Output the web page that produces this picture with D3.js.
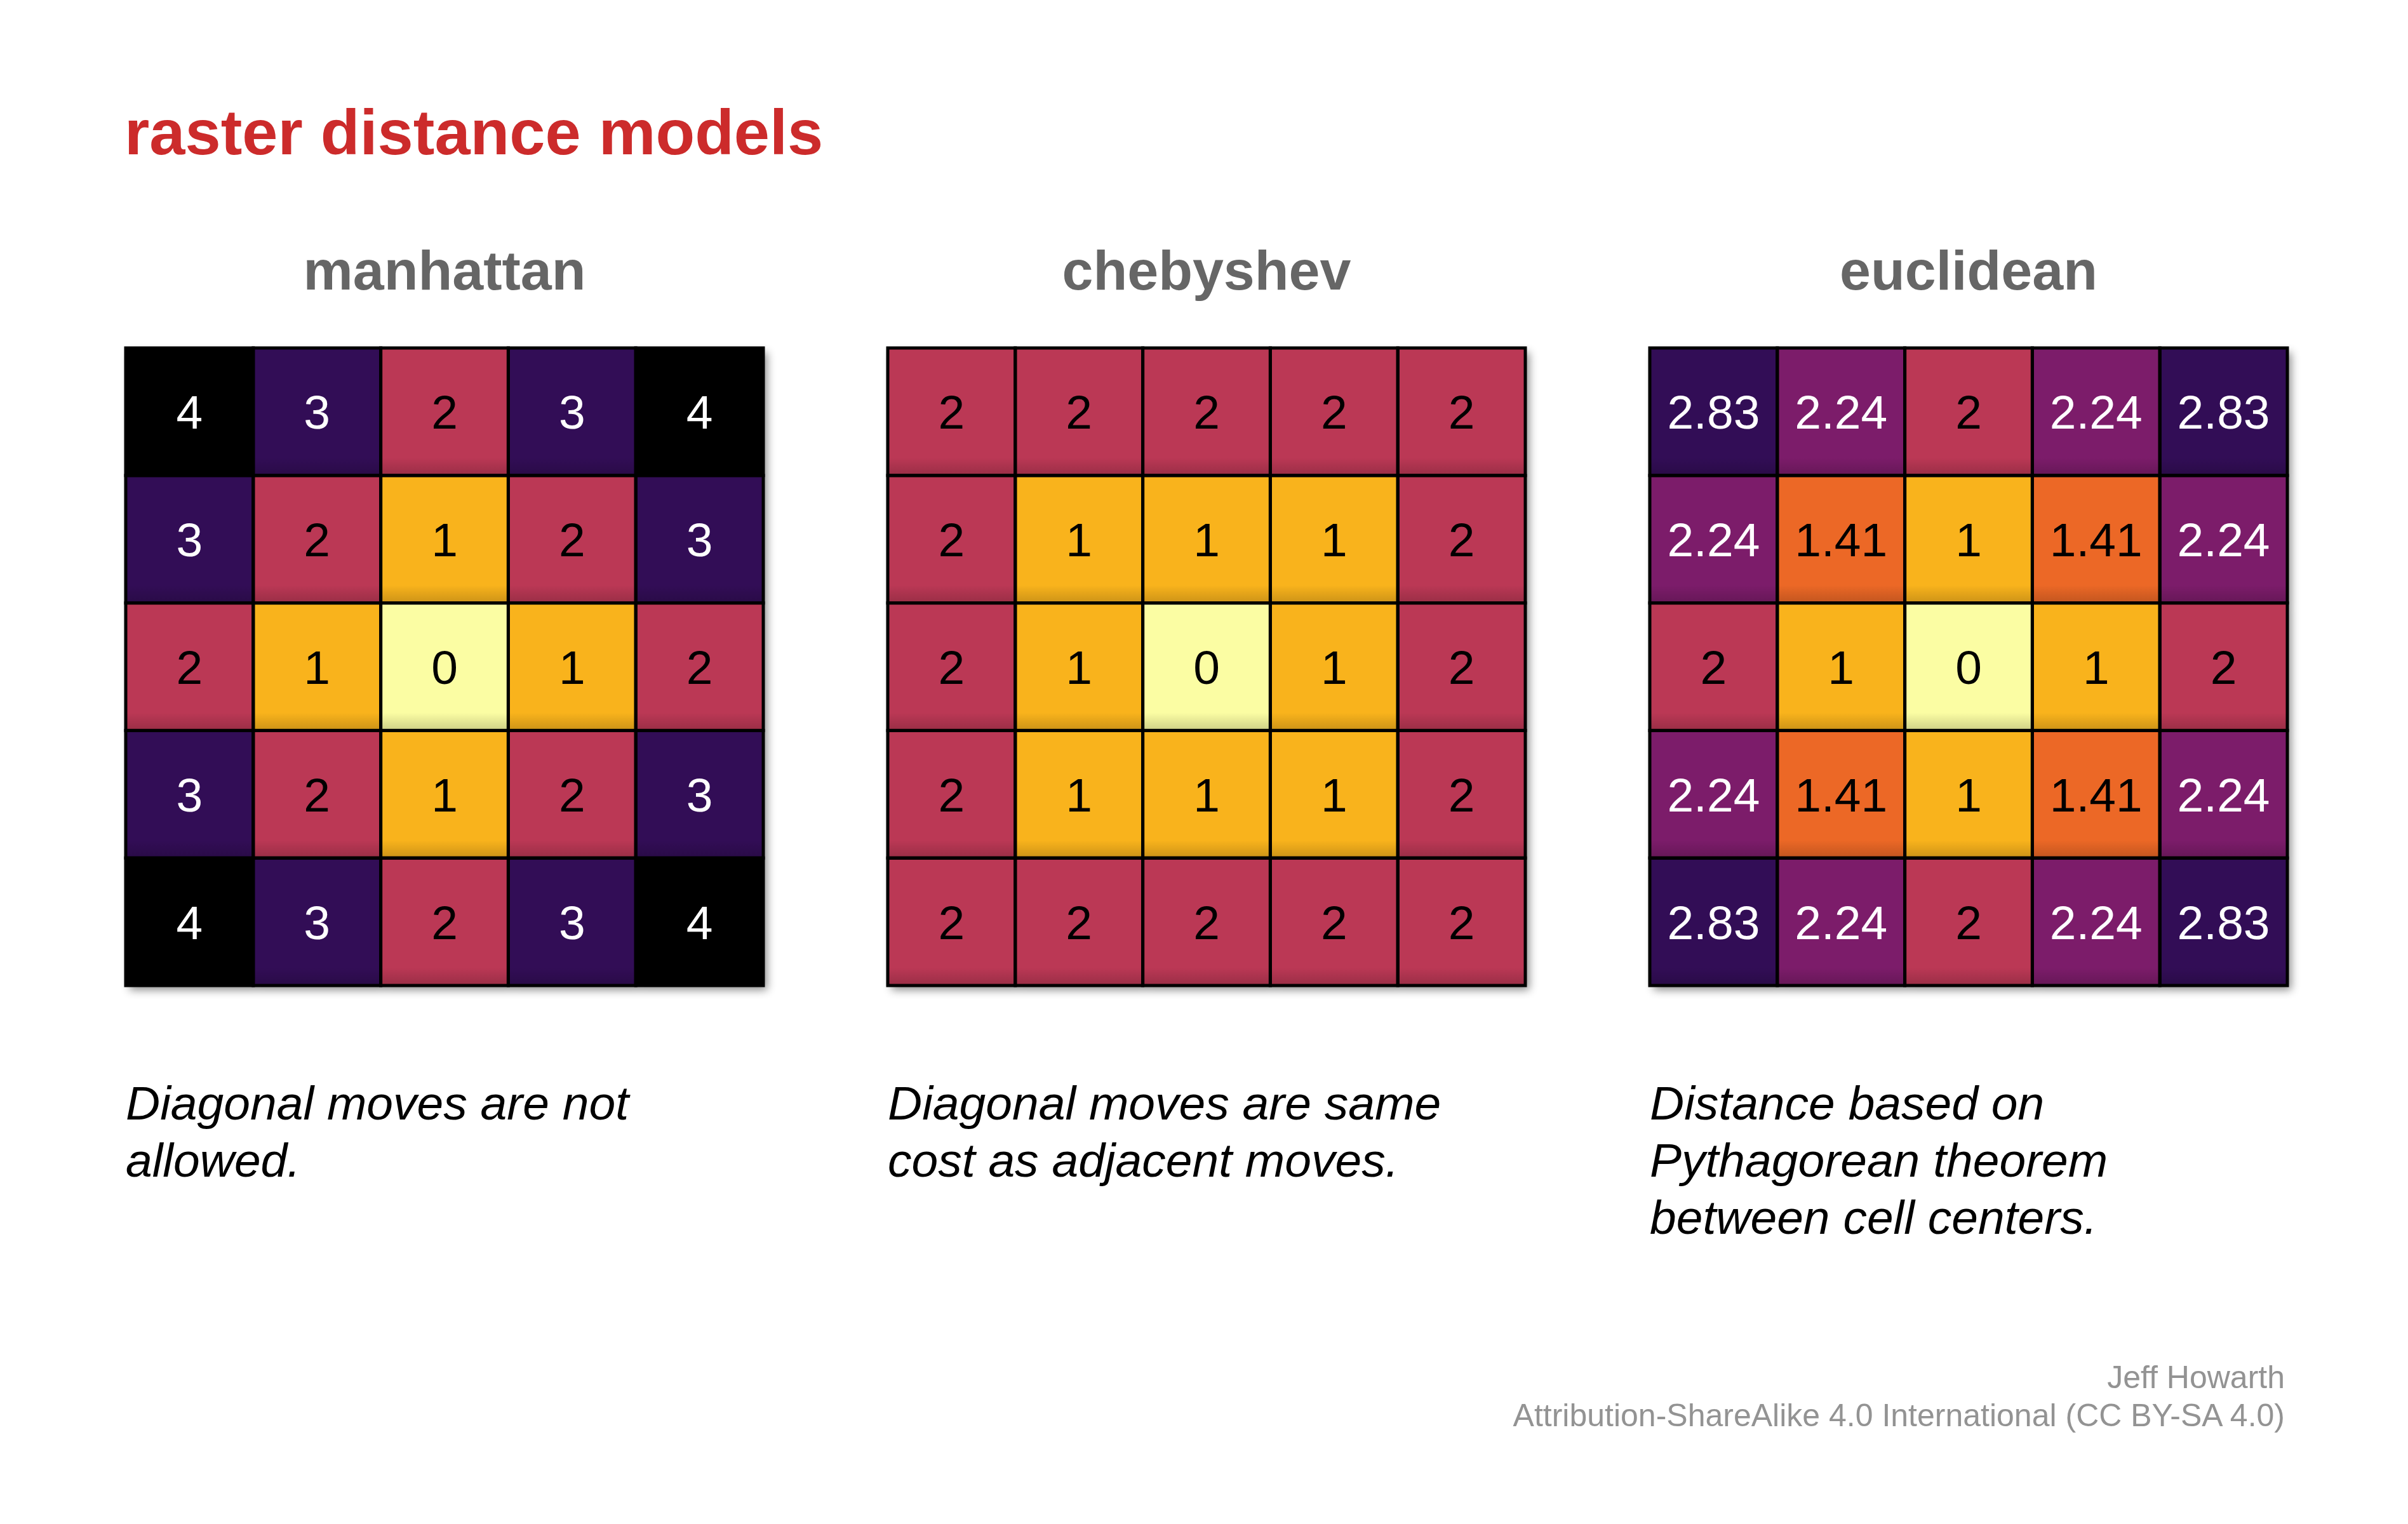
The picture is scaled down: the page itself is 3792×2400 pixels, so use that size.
<!DOCTYPE html>
<html lang="en">
	<head>
		<meta charset="utf-8">
		<title>raster distance models</title>
		<script src="https://cdnjs.cloudflare.com/ajax/libs/d3/7.8.5/d3.min.js"></script>
		<style type="text/css">
			body { margin: 0; background: #fff; }
			text { font-family: "Liberation Sans", Arial, Helvetica, sans-serif; }
		</style>
	</head>
	<body>
		<script type="text/javascript">

			// distance values (row by row)
			const manhattan = [
				["4","3","2","3","4"],
				["3","2","1","2","3"],
				["2","1","0","1","2"],
				["3","2","1","2","3"],
				["4","3","2","3","4"]
			];
			const chebyshev = [
				["2","2","2","2","2"],
				["2","1","1","1","2"],
				["2","1","0","1","2"],
				["2","1","1","1","2"],
				["2","2","2","2","2"]
			];
			const euclidean = [
				["2.83","2.24","2","2.24","2.83"],
				["2.24","1.41","1","1.41","2.24"],
				["2","1","0","1","2"],
				["2.24","1.41","1","1.41","2.24"],
				["2.83","2.24","2","2.24","2.83"]
			];

			const panelNames = ["manhattan", "chebyshev", "euclidean"];
			const panelGrids = [manhattan, chebyshev, euclidean];
			const captions = [
				["Diagonal moves are not", "allowed."],
				["Diagonal moves are same", "cost as adjacent moves."],
				["Distance based on", "Pythagorean theorem", "between cell centers."]
			];

			// colour classes
			const classValues = ["0", "1", "1.41", "2", "2.24", "2.83", "3", "4"];
			const classColors = ["#fbfda3", "#f9b31c", "#ec6726", "#bb3754", "#7b1b6a", "#330a56", "#330a56", "#000004"];
			const classText   = ["#000", "#000", "#000", "#000", "#fff", "#fff", "#fff", "#fff"];

			var w = 3792;
			var h = 2400;

			var svg = d3.select("body")
						.append("svg")
						.attr("width", w)
						.attr("height", h);

			var defs = svg.append("defs");
			var f = defs.append("filter")
				.attr("id", "shadow")
				.attr("x", "-10%").attr("y", "-10%")
				.attr("width", "130%").attr("height", "130%");
			f.append("feDropShadow")
				.attr("dx", 6).attr("dy", 7)
				.attr("stdDeviation", 7)
				.attr("flood-color", "#000")
				.attr("flood-opacity", 0.45);

			var inner = defs.append("linearGradient")
				.attr("id", "innerShade")
				.attr("x1", 0).attr("y1", 0).attr("x2", 0).attr("y2", 1);
			inner.append("stop").attr("offset", "0.86").attr("stop-color", "#000").attr("stop-opacity", 0);
			inner.append("stop").attr("offset", "1").attr("stop-color", "#000").attr("stop-opacity", 0.18);

			var fill = d3.scaleOrdinal().domain(classValues).range(classColors);
			var ink = d3.scaleOrdinal().domain(classValues).range(classText);

			// title
			svg.append("text")
				.attr("x", 196)
				.attr("y", 243)
				.attr("font-size", "101px")
				.attr("font-weight", "bold")
				.attr("fill", "#cc2b2b")
				.text("raster distance models");

			var gridSize = 1004;
			var panelX = d3.scaleBand().domain(panelNames).range([198, 198 + 1200 * 3]).paddingInner(0).paddingOuter(0);
			var idx = d3.range(5);

			panelNames.forEach(function(name, p) {
				var x0 = panelX(name);
				var y0 = 548;
				var data = panelGrids[p];

				var xs = d3.scaleBand().domain(idx).range([x0, x0 + gridSize]);
				var ys = d3.scaleBand().domain(idx).range([y0, y0 + gridSize]);

				svg.append("text")
					.attr("x", x0 + gridSize / 2)
					.attr("y", 456)
					.attr("text-anchor", "middle")
					.attr("font-size", "88px")
					.attr("font-weight", "bold")
					.attr("fill", "#666666")
					.text(name);

				var cells = [];
				data.forEach(function(row, r) {
					row.forEach(function(v, c) { cells.push({r: r, c: c, v: v}); });
				});

				var g = svg.append("g").attr("filter", "url(#shadow)");
				g.selectAll("rect.cell")
					.data(cells)
					.enter()
					.append("rect")
					.attr("class", "cell")
					.attr("x", function(d) { return xs(d.c); })
					.attr("y", function(d) { return ys(d.r); })
					.attr("width", xs.bandwidth())
					.attr("height", ys.bandwidth())
					.attr("fill", function(d) { return fill(d.v); });

				svg.append("g").selectAll("rect")
					.data(cells)
					.enter()
					.append("rect")
					.attr("x", function(d) { return xs(d.c); })
					.attr("y", function(d) { return ys(d.r); })
					.attr("width", xs.bandwidth())
					.attr("height", ys.bandwidth())
					.attr("fill", "url(#innerShade)");

				svg.append("g").selectAll("rect")
					.data(cells)
					.enter()
					.append("rect")
					.attr("x", function(d) { return xs(d.c); })
					.attr("y", function(d) { return ys(d.r); })
					.attr("width", xs.bandwidth())
					.attr("height", ys.bandwidth())
					.attr("fill", "none")
					.attr("stroke", "#000")
					.attr("stroke-width", 5);

				svg.append("g").selectAll("text")
					.data(cells)
					.enter()
					.append("text")
					.attr("x", function(d) { return xs(d.c) + xs.bandwidth() / 2; })
					.attr("y", function(d) { return ys(d.r) + ys.bandwidth() / 2 + 27; })
					.attr("text-anchor", "middle")
					.attr("font-size", "75px")
					.attr("fill", function(d) { return ink(d.v); })
					.text(function(d) { return d.v; });

				svg.append("g").selectAll("text")
					.data(captions[p])
					.enter()
					.append("text")
					.attr("x", x0)
					.attr("y", function(d, i) { return 1763 + i * 90; })
					.attr("font-size", "75px")
					.attr("font-style", "italic")
					.attr("fill", "#000")
					.text(function(d) { return d; });
			});

			// credits
			svg.append("text")
				.attr("x", 3598).attr("y", 2186)
				.attr("text-anchor", "end")
				.attr("font-size", "50px")
				.attr("fill", "#939393")
				.text("Jeff Howarth");
			svg.append("text")
				.attr("x", 3598).attr("y", 2246)
				.attr("text-anchor", "end")
				.attr("font-size", "50px")
				.attr("fill", "#939393")
				.text("Attribution-ShareAlike 4.0 International (CC BY-SA 4.0)");

		</script>
	</body>
</html>
